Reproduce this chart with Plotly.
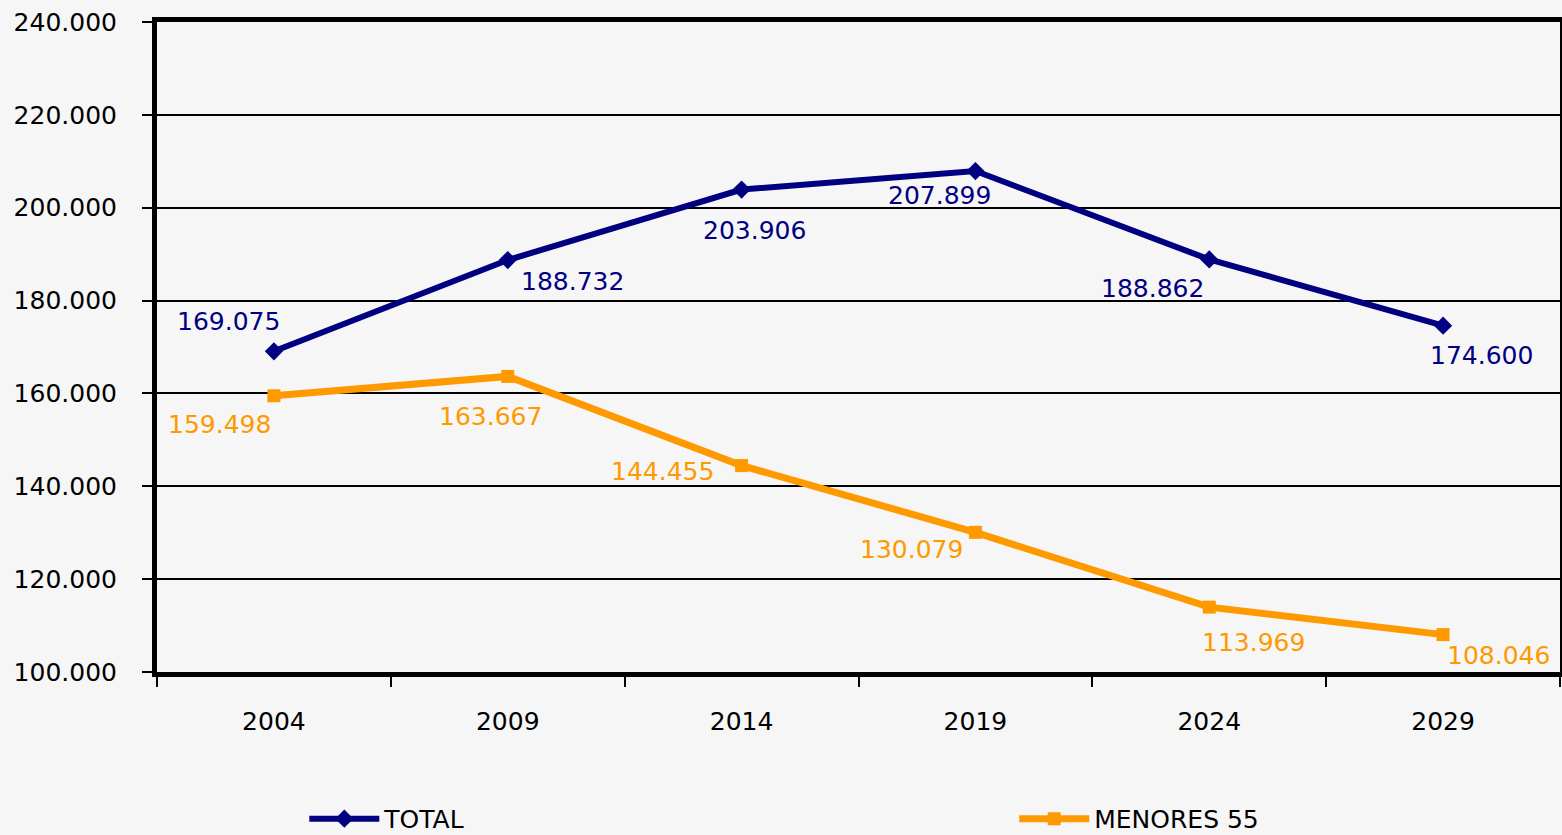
import plotly.graph_objects as go

years = ["2004", "2009", "2014", "2019", "2024", "2029"]
total = [169075, 188732, 203906, 207899, 188862, 174600]
menores55 = [159498, 163667, 144455, 130079, 113969, 108046]
y_ticks = [100000, 120000, 140000, 160000, 180000, 200000, 220000, 240000]

NAVY = "#000080"
ORANGE = "#FF9900"
FONT = "DejaVu Sans, Verdana, sans-serif"

# label offsets (pixels) relative to each point: (dx, dy up)
total_off = [(-45, 30), (65, -21), (13, -41), (-36, -24), (-57, -29), (38, -30)]
men_off = [(-54, -29), (-17, -40), (-79, -6), (-64, -17), (44, -35), (55, -21)]

fig = go.Figure()
fig.add_trace(go.Scatter(
    x=years, y=total, name="TOTAL", mode="lines+markers",
    line=dict(color=NAVY, width=6),
    marker=dict(symbol="diamond", size=14, color=NAVY),
    legend="legend",
))
fig.add_trace(go.Scatter(
    x=years, y=menores55, name="MENORES 55", mode="lines+markers",
    line=dict(color=ORANGE, width=7),
    marker=dict(symbol="square", size=13, color=ORANGE),
    legend="legend2",
))

def fmt(v):
    return f"{v:,}".replace(",", ".")

annotations = []
for series, offs, col in ((total, total_off, NAVY), (menores55, men_off, ORANGE)):
    for i, (v, (dx, dy)) in enumerate(zip(series, offs)):
        annotations.append(dict(
            x=i, y=v, xref="x", yref="y", text=fmt(v), showarrow=False,
            xshift=dx, yshift=dy,
            font=dict(family=FONT, size=25, color=col)))

legend_style = dict(orientation="h", y=-0.226, yanchor="middle",
                    xanchor="left", itemwidth=70,
                    bgcolor="rgba(0,0,0,0)",
                    font=dict(family=FONT, size=25, color="black"))

fig.update_layout(
    width=1562, height=835,
    margin=dict(l=157, r=2, t=22, b=163, autoexpand=False),
    paper_bgcolor="#f6f6f6", plot_bgcolor="#f6f6f6",
    separators=",.",
    font=dict(family=FONT, size=25, color="black"),
    showlegend=True,
    annotations=annotations,
    legend=dict(x=0.105, **legend_style),
    legend2=dict(x=0.611, **legend_style),
)
fig.update_xaxes(
    type="category", range=[-0.5, 5.5],
    showline=True, linecolor="black", linewidth=5, mirror=True,
    ticks="outside", tickson="boundaries", ticklen=10, tickwidth=2,
    tickcolor="black", showgrid=False, ticklabelstandoff=23,
)
fig.update_yaxes(
    range=[100000, 240000], tickvals=y_ticks, tickformat=",d",
    showline=True, linecolor="black", linewidth=5, mirror=True,
    ticks="outside", ticklen=10, tickwidth=2, tickcolor="black",
    showgrid=True, gridcolor="black", gridwidth=2, zeroline=False,
    ticklabelstandoff=20,
)

fig.write_html("out.html",
               config={"displayModeBar": False},
               post_script="document.body.style.margin='0px';"
                           "document.body.style.background='#f6f6f6';")
